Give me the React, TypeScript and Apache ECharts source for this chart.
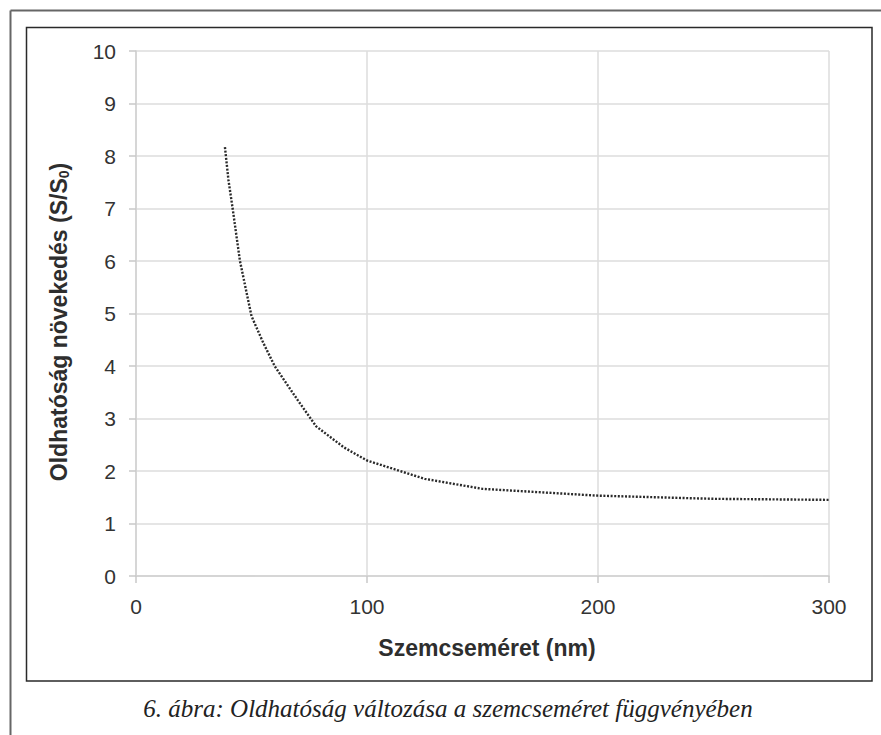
import React, { useEffect, useRef } from "react";
import * as echarts from "echarts";

const particleSize: number[] = [38.5, 40, 42, 45, 50, 55, 60, 70, 78, 90, 100, 125, 150, 200, 250, 300];
const solubilityRatio: number[] = [8.17, 7.55, 6.95, 6.0, 4.95, 4.45, 4.0, 3.35, 2.85, 2.45, 2.2, 1.85, 1.66, 1.53, 1.47, 1.45];
const xTicks: number[] = [0, 100, 200, 300];
const yTicks: number[] = [0, 1, 2, 3, 4, 5, 6, 7, 8, 9, 10];

const xTitle = "Szemcseméret (nm)";
const yTitle = "Oldhatóság növekedés (S/S{sub|0})";
const caption = "6. ábra: Oldhatóság változása a szemcseméret függvényében";

export default function App() {
  const ref = useRef<HTMLDivElement>(null);
  useEffect(() => {
    if (!ref.current) return;
    const chart = echarts.init(ref.current, undefined, { renderer: "svg" });
    const data = particleSize.map((x, i) => [x, solubilityRatio[i]]);
    chart.setOption({
      animation: false,
      backgroundColor: "#ffffff",
      grid: { left: 136, right: 52, top: 51, bottom: 159, containLabel: false },
      xAxis: {
        type: "value",
        min: xTicks[0],
        max: xTicks[xTicks.length - 1],
        interval: 100,
        axisLine: { show: true, lineStyle: { color: "#d0d0d0", width: 1.5 } },
        axisTick: { show: true, length: 7, lineStyle: { color: "#c8c8c8", width: 1.5 } },
        axisLabel: { margin: 20, color: "#333333", fontSize: 21, fontFamily: "Liberation Sans, Arial, sans-serif" },
        splitLine: { show: true, lineStyle: { color: "#dcdcdc", width: 1.5 } },
      },
      yAxis: {
        type: "value",
        min: yTicks[0],
        max: yTicks[yTicks.length - 1],
        interval: 1,
        axisLine: { show: true, lineStyle: { color: "#d0d0d0", width: 1.5 } },
        axisTick: { show: true, length: 7, lineStyle: { color: "#c8c8c8", width: 1.5 } },
        axisLabel: { margin: 20, color: "#333333", fontSize: 21, fontFamily: "Liberation Sans, Arial, sans-serif" },
        splitLine: { show: true, lineStyle: { color: "#dcdcdc", width: 1.5 } },
      },
      series: [
        {
          type: "line",
          data,
          showSymbol: false,
          symbol: "none",
          smooth: false,
          lineStyle: { color: "#2a2a2a", width: 2.4, type: [2, 1.6] },
        },
      ],
      graphic: [
        { type: "line", shape: { x1: 10.5, y1: 10.5, x2: 881, y2: 10.5 }, style: { stroke: "#666666", lineWidth: 2 } },
        { type: "line", shape: { x1: 10.5, y1: 10.5, x2: 10.5, y2: 735 }, style: { stroke: "#666666", lineWidth: 2 } },
        { type: "rect", shape: { x: 26.5, y: 27.5, width: 845.5, height: 653.5 }, style: { fill: "none", stroke: "#2a2a2a", lineWidth: 1.5 } },
        {
          type: "text",
          x: 487,
          y: 648,
          style: {
            text: xTitle,
            fill: "#2e2e2e",
            font: "bold 23px 'Liberation Sans', Arial, sans-serif",
            textAlign: "center",
            textVerticalAlign: "middle",
          },
        },
        {
          type: "text",
          x: 59,
          y: 322,
          rotation: Math.PI / 2,
          style: {
            text: yTitle,
            fill: "#2e2e2e",
            font: "bold 23px 'Liberation Sans', Arial, sans-serif",
            textAlign: "center",
            textVerticalAlign: "middle",
            rich: {
              sub: {
                fontSize: 14,
                fontWeight: "bold",
                fontFamily: "Liberation Sans, Arial, sans-serif",
                fill: "#2e2e2e",
                padding: [10, 0, 0, 0],
              },
            },
          },
        },
        {
          type: "text",
          x: 448,
          y: 708,
          style: {
            text: caption,
            fill: "#222222",
            font: "italic 25px 'Liberation Serif', 'Times New Roman', serif",
            textAlign: "center",
            textVerticalAlign: "middle",
          },
        },
      ],
    });
    return () => chart.dispose();
  }, []);
  return <div ref={ref} style={{ position: "fixed", left: 0, top: 0, width: 881, height: 735 }} />;
}
